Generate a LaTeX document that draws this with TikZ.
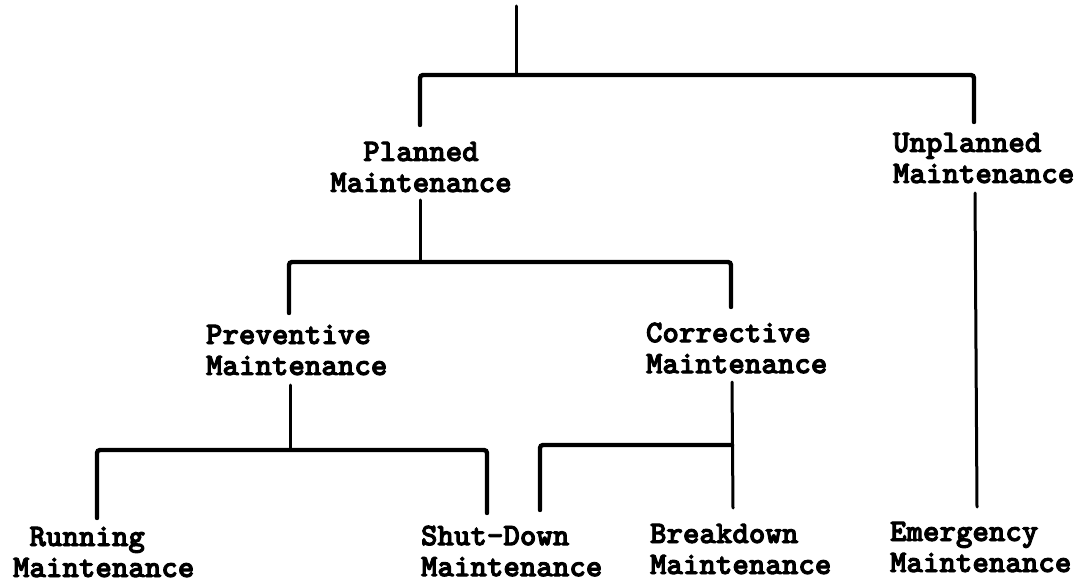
\documentclass[tikz,border=0pt]{standalone}
\usepackage{fontspec}
\newfontfamily\twfont{lmmonolt10-bold.otf}[FakeBold=3]
\begin{document}
\begin{tikzpicture}[x=1pt,y=-1pt,
  lbl/.style={inner sep=0pt, outer sep=0pt, font=\twfont\fontsize{31.4}{31}\selectfont},
  barline/.style={line width=4.4pt, rounded corners=3pt, line cap=round},
  stem/.style={line width=3pt, line cap=round}]
\useasboundingbox (0,0) rectangle (1085,583);

% labels
\node[lbl, align=center] (planned) at (421,167) {Planned\\Maintenance};
\node[lbl, align=left, anchor=west] (unplanned) at (893,158) {Unplanned\\Maintenance};
\node[lbl, align=left, anchor=west] (preventive) at (206,350) {Preventive\\Maintenance};
\node[lbl, align=left, anchor=west] (corrective) at (646,348) {Corrective\\Maintenance};
\node[lbl, align=left, anchor=west] (running) at (13,552) {~Running\\Maintenance};
\node[lbl, align=left, anchor=west] (shutdown) at (421,551) {Shut-Down\\Maintenance};
\node[lbl, align=left, anchor=west] (breakdown) at (650,549) {Breakdown\\Maintenance};
\node[lbl, align=left, anchor=west] (emergency) at (890,547) {Emergency\\Maintenance};

% joint coordinates
\coordinate (top) at (516,6);
\coordinate (j1) at (516,75);
\coordinate (plIn) at (420,125);
\coordinate (unIn) at (974,122);
\coordinate (plOut) at (420,200);
\coordinate (j2) at (420,262);
\coordinate (prIn) at (289,313);
\coordinate (coIn) at (731,307);
\coordinate (prOut) at (290,385);
\coordinate (j3) at (290,450);
\coordinate (ruIn) at (97,518);
\coordinate (shIn) at (487,513);
\coordinate (coOut) at (732,382);
\coordinate (j4) at (732,445);
\coordinate (shIn2) at (540,510);
\coordinate (brIn) at (733,508);
\coordinate (unOut) at (975,193);
\coordinate (emIn) at (977,507);

% level 1
\draw[stem] (top) -- (j1);
\draw[barline] (plIn) -- (plIn |- j1) -- (unIn |- j1) -- (unIn);
% level 2
\draw[stem] (plOut) -- (j2);
\draw[barline] (prIn) -- (prIn |- j2) -- (coIn |- j2) -- (coIn);
% level 3 (preventive)
\draw[stem] (prOut) -- (j3);
\draw[barline] (ruIn) -- (ruIn |- j3) -- (shIn |- j3) -- (shIn);
% level 3 (corrective)
\draw[stem] (coOut) -- (brIn);
\draw[barline] (shIn2) -- (shIn2 |- j4) -- (j4);
% unplanned
\draw[stem] (unOut) -- (emIn);
\end{tikzpicture}
\end{document}
